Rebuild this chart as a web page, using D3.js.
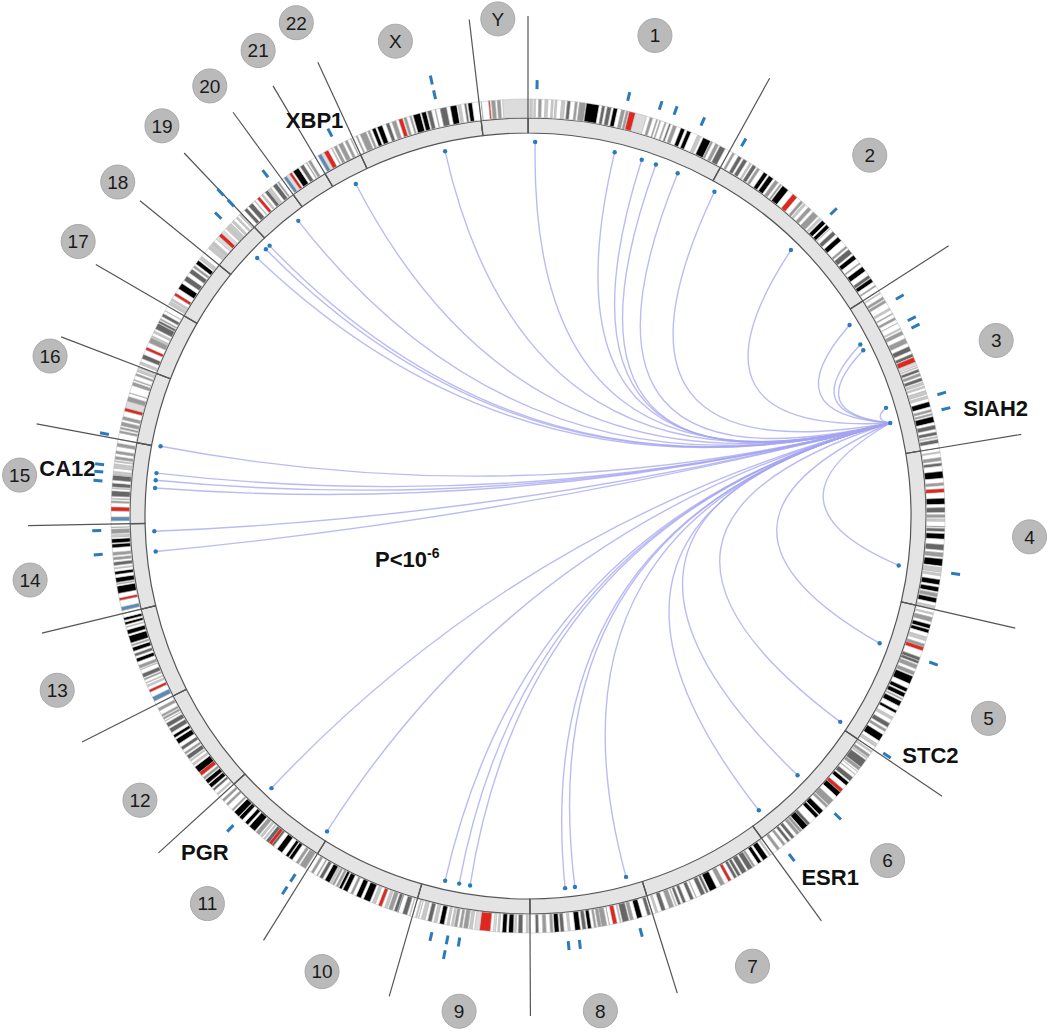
<!DOCTYPE html>
<html>
<head>
<meta charset="utf-8">
<script src="https://cdn.jsdelivr.net/npm/d3@7"></script>
<style>
body { margin: 0; background: #fff; }
svg { display: block; }
</style>
</head>
<body>
<div id="chart"></div>
<script>
// chromosomes, clockwise from 12 o'clock (sizes in Mb)
var chromNames = ["1","2","3","4","5","6","7","8","9","10","11","12","13","14","15","16","17","18","19","20","21","22","X","Y"];
var chromSizes = [247.25,242.95,199.50,191.27,180.86,170.90,158.82,146.27,140.27,135.37,134.45,132.35,114.14,106.37,100.34,88.83,78.77,76.12,63.81,62.44,46.94,49.69,154.91,57.77];

// cytobands: "end stain" pairs in Mb. n=gneg 1=gpos25 2=gpos50 3=gpos75 4=gpos100 a=acen v=gvar s=stalk
var bandData = [
"2.3 n 5.4 1 7.2 n 9.2 1 12.7 n 16.2 2 20.4 n 23.9 1 28 n 30.2 1 32.4 n 34.6 1 40.1 n 44.1 1 46.8 n 50.7 3 56.1 n 59 2 61.3 n 68.9 2 69.7 n 84.9 4 88.4 n 92 3 94.7 n 99.7 3 102.2 n 107.2 4 111.8 n 116.1 2 117.8 n 120.7 2 121.5 n 128.9 a 142.6 v 147 n 150.3 2 155 n 156.5 2 159.1 n 160.5 2 165.5 n 167.2 2 170.9 n 172.9 3 176 n 180.3 2 185.8 n 190.8 4 193.8 n 198.7 4 207.2 n 211.5 1 214.5 n 224.1 4 224.6 n 227 2 230.7 n 234.7 2 236.6 n 243.7 3 249.25 n",
"4.4 n 7.1 2 12.2 n 16.7 3 19.2 n 24 3 27.9 n 30 1 32.1 n 36.6 3 38.6 n 41.8 2 47.8 n 52.9 4 55 n 61.3 4 64.1 n 68.6 2 71.5 n 73.5 2 75 n 83.3 4 90.5 n 96.8 a 102.7 n 106 2 107.5 n 110.2 1 114.4 n 118.8 2 122.4 n 129.9 2 132.5 n 135.1 1 136.8 n 142.2 4 144.1 n 148.7 4 149.9 n 150.5 1 154.9 n 159.8 3 163.7 n 169.7 4 178 n 180.6 2 183 n 189.4 3 191.9 n 197.4 4 203.3 n 204.9 2 209 n 215.3 4 221.5 n 225.2 3 226.1 n 231 4 235.6 n 237.3 2 243.2 n",
"2.8 n 4 1 8.7 n 11.8 2 13.3 n 16.4 2 23.9 n 26.4 1 30.9 n 32.1 2 36.5 n 39.3 2 43.7 n 44.1 2 50.6 n 52.3 1 54.4 n 58.6 2 63.7 n 69.8 2 74.2 n 79.8 3 83.5 n 87.2 3 87.9 n 93.9 a 98.3 v 100 n 100.9 1 102.8 n 106.2 3 107.9 n 111.3 2 113.5 n 117.3 3 119 n 121.9 1 123.8 n 125.8 1 129.2 n 133.7 1 135.7 n 138.7 1 142.8 n 148.9 4 152.1 n 155 2 157 n 159 2 160.7 n 167.6 4 170.9 n 175.7 3 179 n 182.7 3 184.5 n 186 1 187.9 n 192.3 3 198.02 n",
"4.5 n 6 1 11.3 n 15.2 2 17.8 n 21.3 3 27.7 n 35.8 4 41.2 n 44.6 2 48.2 n 52.7 a 59.5 n 66.6 4 70.5 n 76.3 3 78.9 n 82.4 2 84.1 n 86.9 1 92.8 n 93.7 3 95.1 n 98.8 3 101.1 n 107.7 4 114.1 n 120.8 3 123.8 n 128.8 2 131.1 n 139.5 4 141.5 n 146.8 1 148.5 n 151.1 1 155.6 n 161.8 4 164.5 n 170.1 4 171.9 n 176.3 2 177.5 n 183.2 4 187.1 n 191.15 1",
"4.5 n 6.3 1 9.8 n 15 2 18.4 n 23.3 4 24.6 n 28.9 4 33.8 n 38.4 1 42.5 n 46.1 2 50.7 a 58.9 n 62.9 3 63.2 n 66.7 3 68.4 n 73.3 2 76.9 n 81.4 2 82.8 n 92.3 4 98.2 n 102.8 4 104.5 n 109.6 4 111.5 n 113.1 2 115.2 n 121.4 4 127.3 n 130.6 4 136.2 n 139.5 1 144.5 n 149.8 3 152.7 n 155.7 2 159.9 n 168.5 4 172.8 n 176.6 1 180.92 n",
"2.3 n 4.2 1 7.1 n 10.6 2 11.6 n 13.4 1 15.2 n 25.2 3 25.8 n 29.8 2 31.8 n 32.1 1 35.6 n 36.6 1 40.5 n 46.2 3 48.1 n 53 4 58.7 n 63.3 a 63.4 n 70 4 75.9 n 83.9 2 84.9 n 88 2 93.1 n 99.5 4 100.6 n 105.5 4 114.6 n 118.3 3 118.5 n 126.1 4 127.1 n 130.3 2 131.2 n 135.2 2 139 n 142.8 3 145.6 n 149 3 152.5 n 155.5 2 161 n 164.5 2 171.12 n",
"2.8 n 4.5 1 7.3 n 13.8 4 16.5 n 20.9 4 25.5 n 28 2 28.8 n 35 3 37.2 n 43.3 3 45.4 n 49 3 50.5 n 54 3 58 n 61.7 a 67 n 72.2 2 77.5 n 86.4 4 88.2 n 91.1 3 92.8 n 98 3 103.8 n 104.5 2 107.4 n 111.6 3 117.4 n 121.1 3 123.8 n 127.1 3 129.2 n 130.4 1 132.6 n 138.2 2 143.1 n 147.9 3 152.6 n 155.1 1 159.14 n",
"2.2 n 6.2 3 12.7 n 19 4 23.3 n 27.4 2 28.8 n 36.5 3 38.3 n 39.7 1 43.1 n 48.1 a 52.2 n 52.6 3 55.5 n 61.6 2 62.2 n 66 2 68 n 70.5 2 73.9 n 78.3 4 80.1 n 84.6 3 86.9 n 93.3 4 99 n 101.6 1 106.2 n 110.5 3 112.1 n 117.7 4 119.2 n 122.5 2 127.3 n 131.5 2 136.4 n 139.9 3 146.36 n",
"2.2 n 4.6 1 9 n 14.2 3 16.6 n 18.5 1 19.9 n 25.6 4 28 n 33.2 4 36.3 n 38.4 1 41 n 43.6 v 47.3 n 60 a 65.9 v 68.7 n 72.2 1 74 n 79.2 2 81.1 n 84.1 2 86.9 n 90.4 2 91.8 n 93.9 1 96.6 n 99.3 1 102.6 n 108.2 4 111.3 n 114.9 1 117.7 n 122.5 3 125.8 n 130.3 1 133.5 n 134 1 135.9 n 137.4 1 141.21 n",
"3 n 3.8 1 6.6 n 12.2 3 17.3 n 18.6 3 18.7 n 22.6 3 24.6 n 29.6 2 31.3 n 34.4 1 38 n 42.3 a 46.1 n 49.9 1 52.9 n 61.2 4 64.5 n 70.6 4 74.9 n 77.7 2 82 n 87.9 4 89.5 n 92.9 4 94.1 n 97 2 99.3 n 101.9 2 103 n 104.9 1 105.8 n 111.9 4 114.9 n 119.1 3 121.7 n 123.1 2 127.5 n 130.6 2 135.53 n",
"2.8 n 10.7 2 12.7 n 16.2 2 21.7 n 26.1 4 27.2 n 31 4 36.4 n 43.5 4 48.8 n 51.6 3 55.8 a 60.1 3 61.9 n 63.6 1 66.1 n 68.7 1 70.5 n 75.5 2 77.4 n 85.9 4 88.3 n 92.8 4 97.2 n 102.1 4 102.9 n 110.4 4 112.5 n 114.5 2 121.2 n 123.9 2 127.8 n 130.8 2 135.01 n",
"3.3 n 5.4 1 10.1 n 12.8 3 14.8 n 20 4 21.3 n 26.5 4 27.8 n 30.7 2 33.3 n 38.2 a 46.4 4 49.1 n 51.5 1 54.9 n 56.6 1 58.1 n 63.1 3 65.1 n 67.7 2 71.5 n 75.3 3 79.9 n 86.3 4 88.6 n 92.2 4 95.8 n 101.2 3 103.5 n 108.6 3 111.3 n 111.9 1 113.9 n 116.4 2 117.7 n 120.3 2 125.4 n 128.9 2 133.85 n",
"4.5 n 10 s 16.3 n 19.5 a 23.3 n 25.5 1 27.8 n 28.9 1 32.2 n 34 2 35.5 n 40.1 3 45.2 n 45.8 1 47.3 n 50.9 2 55.3 n 59.6 4 62.3 n 65.7 3 68.6 n 73.3 4 75.4 n 77.2 2 79 n 87.7 4 90 n 95 4 98.2 n 99.3 1 101.7 n 104.8 4 107 n 110.3 4 115.17 n",
"3.7 n 8.1 s 16.1 n 19.1 a 24.6 n 33.3 4 35.3 n 36.6 2 37.8 n 43.5 4 47.2 n 50.9 4 54.1 n 55.5 1 58.1 n 62.1 3 64.8 n 67.9 2 70.2 n 73.8 2 79.3 n 83.6 4 84.9 n 89.8 4 91.9 n 94.7 1 96.3 n 101.4 2 103.2 n 104 2 107.35 n",
"3.9 n 8.7 s 15.8 n 20.7 a 25.7 n 28.1 2 30.3 n 31.2 2 33.6 n 40.1 3 42.8 n 43.6 1 44.8 n 49.5 3 52.9 n 59.1 3 59.3 n 63.7 1 67.5 n 72.7 1 75.2 n 76.6 1 78.3 n 81.7 2 85.2 n 88.5 2 93.8 n 98 2 102.53 n",
"7.9 n 10.5 2 12.6 n 14.8 2 16.8 n 21.2 2 24.2 n 28.1 2 34.6 n 38.6 a 47 v 52.6 2 56.7 n 57.4 2 66.7 n 70.8 2 72.9 n 74.1 2 79.2 n 81.7 2 84.2 n 87.1 1 88.7 n 90.35 1",
"3.3 n 6.5 1 10.7 n 16 3 22.2 n 25.8 a 31.8 n 38.1 2 38.4 n 40.9 1 44.9 n 47.4 1 50.2 n 57.6 3 58.3 n 61.1 3 62.6 n 64.2 2 67.1 n 70.9 3 74.8 n 75.3 1 81.2 n",
"2.9 n 7.1 1 8.5 n 10.9 1 15.4 n 19 a 25 n 32.7 4 37.2 n 43.5 3 48.2 n 53.8 3 56.2 n 59 2 61.6 n 66.8 4 68.7 n 73.1 1 78.08 n",
"6.9 n 13.9 1 14 n 16.3 1 20 n 24.4 v 28.6 a 32.4 v 35.5 n 38.3 1 38.7 n 43.4 1 45.2 n 48 1 51.4 n 53.6 1 56.3 n 59.13 1",
"5.1 n 9.2 3 12.1 n 17.9 3 21.3 n 22.3 1 25.6 n 29.4 a 32.1 n 34.4 1 37.6 n 41.7 3 42.1 n 46.4 1 49.8 n 55 3 56.5 n 58.4 2 63.03 n",
"2.8 n 6.8 s 10.9 v 14.3 a 16.4 n 24 4 26.8 n 31.5 3 35.3 n 36.4 2 38.3 n 41.6 2 48.13 n",
"3.8 n 8.3 s 12.2 v 17.9 a 22.2 n 23.5 1 25.9 n 29.6 2 32.2 n 37.6 2 41 n 44.2 2 48.4 n 49.4 2 51.3 n",
"4.3 n 6 2 9.5 n 17.1 2 19.3 n 21.9 2 24.9 n 29.3 4 31.5 n 37.6 4 42.4 n 46.4 3 49.8 n 54.8 2 58.1 n 63 a 64.6 n 67.8 2 71.8 n 73.9 2 76 n 84.6 4 86.2 n 91.8 4 93.5 n 98.3 3 102.6 n 103.7 2 108.7 n 116.5 3 120.9 n 128.7 4 130.4 n 133.6 1 138 n 140.3 3 142.1 n 147.1 4 155.27 n",
"2.5 n 3 3 11.6 n 13.4 a 15.1 n 19.8 2 22.1 n 26.2 2 28.8 n 59.37 v"
];

// links: every source joins the SIAH2 locus on chr3
var linkChrom = ["X","1","1","1","1","1","2","2","3","3","3","3","4","5","5","6","6","8","8","8","9","9","9","11","11","14","14","15","15","15","16","19","19","19","20","22"];
var linkPos   = [103.1,9.4,114.7,151.5,171.1,201.9,8.6,135,17.2,46.3,54.8,136.1,145.4,59.4,174.9,83.8,152.3,18.6,87,99.9,78.6,93.1,111.9,4.9,97.3,69.3,95.8,46.3,56.5,65.9,1.2,38.6,54.8,61.6,47.5,27.8];
var hubChrom = "3", hubPos = 156.7;

// blue marks outside the ideogram (row 0 = first track, row 1 = stacked)
var markChrom = ["X","X","1","1","1","1","1","2","2","3","3","3","3","3","4","5","5","6","6","8","8","8","9","9","9","9","11","11","11","14","14","15","15","15","16","19","19","19","20","22"];
var markPos   = [105.7,105.7,10.3,115.5,153.2,171.1,204.5,9.4,138.6,18.9,47.1,56.6,138.7,156.7,146.3,60.2,177.5,85.8,156,18.6,89.6,102.4,81.1,94.8,94.8,113.6,9.2,9.2,100,71.9,99.3,49.7,60,68.5,3.3,42.9,63.2,63.2,50.9,28.6];
var markRow   = [0,1,0,0,0,0,0,0,0,0,0,0,0,0,0,0,0,0,0,0,0,0,0,0,1,0,0,1,0,0,0,0,0,0,0,0,0,1,0,0];

// gene labels
var geneNames = ["SIAH2","STC2","ESR1","PGR","CA12","XBP1"];
var geneChrom = ["3","5","6","11","15","22"];
var genePos   = [156.7,174.9,152.3,97.3,56.5,27.8];

var W = 1050, H = 1033, cx = 528, cy = 516;
var rLink = 374, rRingIn = 383, rRingOut = 398, rBandOut = 417, rLine = 500, rLab = 500;
// [angle shift in degrees, radius shift] for crowded badges
var labelNudge = {"1":[0.35,-3],"2":[0.35,-3],"3":[0.5,0],"4":[0.6,2],"5":[0.2,3],"6":[-0.3,-2],"7":[0.15,3],"8":[0.5,0],
    "10":[0.3,0],"11":[-0.2,3],"12":[-1.6,-19],"13":[-0.1,2],"14":[0,2],"15":[-0.15,10],"16":[2.7,4],"17":[5.8,27],
    "18":[4.5,29],"19":[4,35],"20":[3.3,35],"21":[3.3,38],"22":[2.6,45],"X":[0.2,-7],"Y":[-0.1,-2]};
// [angle shift in degrees, radius] for gene names
var geneLabelAt = {SIAH2:[1.4,480],STC2:[-2.7,468],ESR1:[-1.8,471],PGR:[0.6,466],CA12:[0.4,463],XBP1:[-0.9,450]};

var stainColor = {n:"#ffffff","1":"#c8c8c8","2":"#9a9a9a","3":"#666666","4":"#000000",a:"#e0261d",v:"#dcdcdc",s:"#5b8bb8"};

var total = d3.sum(chromSizes);
var offsets = d3.cumsum([0].concat(chromSizes));
var ang = d3.scaleLinear().domain([0, total]).range([0, 2 * Math.PI]);
var deg = Math.PI / 180;

function gpos(chr, mb) { return offsets[chromNames.indexOf(chr)] + mb; }
function pt(a, r) { return [r * Math.sin(a), -r * Math.cos(a)]; }

var svg = d3.select("#chart").append("svg")
    .attr("width", W)
    .attr("height", H)
    .style("font-family", "'Liberation Sans', Arial, sans-serif");

var g = svg.append("g").attr("transform", "translate(" + cx + "," + cy + ")");

var chroms = chromNames.map(function(name, i) {
    return {name: name, start: offsets[i], end: offsets[i] + chromSizes[i]};
});

// grey inner ring
g.selectAll("path.ring")
    .data(chroms)
    .enter()
    .append("path")
    .attr("class", "ring")
    .attr("d", d3.arc()
        .innerRadius(rRingIn).outerRadius(rRingOut)
        .startAngle(function(d) { return ang(d.start); })
        .endAngle(function(d) { return ang(d.end); }))
    .attr("fill", "#e4e4e4")
    .attr("stroke", "#555")
    .attr("stroke-width", 1.2);

// cytobands, stretched to each chromosome's length
var bands = [];
chroms.forEach(function(c, i) {
    var parts = bandData[i].split(" ");
    var k2 = chromSizes[i] / +parts[parts.length - 2];
    var s = 0;
    for (var k = 0; k < parts.length; k += 2) {
        var e = +parts[k] * k2;
        bands.push({start: c.start + s, end: c.start + e, stain: parts[k + 1]});
        s = e;
    }
});

var bandArc = d3.arc()
    .innerRadius(rRingOut + 0.6).outerRadius(rBandOut)
    .startAngle(function(d) { return ang(d.start); })
    .endAngle(function(d) { return ang(d.end); });

g.selectAll("path.band")
    .data(bands)
    .enter()
    .append("path")
    .attr("class", "band")
    .attr("d", bandArc)
    .attr("fill", function(d) { return stainColor[d.stain]; })
    .attr("stroke", "#b4b4b4")
    .attr("stroke-width", 0.5);

// chromosome boundary spokes
g.selectAll("line.spoke")
    .data(chroms)
    .enter()
    .append("line")
    .attr("class", "spoke")
    .attr("x1", function(d) { return pt(ang(d.start), rRingIn)[0]; })
    .attr("y1", function(d) { return pt(ang(d.start), rRingIn)[1]; })
    .attr("x2", function(d) { return pt(ang(d.start), rLine)[0]; })
    .attr("y2", function(d) { return pt(ang(d.start), rLine)[1]; })
    .attr("stroke", "#555")
    .attr("stroke-width", 1.2);

// links
var hubA = ang(gpos(hubChrom, hubPos));
var links = linkChrom.map(function(c, i) { return {a: ang(gpos(c, linkPos[i]))}; });

function linkPath(d) {
    var p0 = pt(d.a, rLink), p1 = pt(hubA, rLink);
    var diff = Math.abs(d.a - hubA);
    if (diff > Math.PI) diff = 2 * Math.PI - diff;
    var sepDeg = diff / deg;
    var mx = Math.sin(d.a) + Math.sin(hubA), my = -Math.cos(d.a) - Math.cos(hubA);
    var ml = Math.sqrt(mx * mx + my * my) || 1;
    var cr = rLink * Math.max(0, 1 - sepDeg / 55);
    var p = d3.path();
    p.moveTo(p0[0], p0[1]);
    p.quadraticCurveTo(mx / ml * cr, my / ml * cr, p1[0], p1[1]);
    return p.toString();
}

g.selectAll("path.link")
    .data(links)
    .enter()
    .append("path")
    .attr("class", "link")
    .attr("d", linkPath)
    .attr("fill", "none")
    .attr("stroke", "#a4a4f0")
    .attr("stroke-opacity", 0.75)
    .attr("stroke-width", 1.4);

g.selectAll("circle.end")
    .data(links.concat([{a: hubA}]))
    .enter()
    .append("circle")
    .attr("class", "end")
    .attr("cx", function(d) { return pt(d.a, rLink)[0]; })
    .attr("cy", function(d) { return pt(d.a, rLink)[1]; })
    .attr("r", 2.2)
    .attr("fill", "#2b7bba");

// outer marks
var marks = markChrom.map(function(c, i) { return {a: ang(gpos(c, markPos[i])), row: markRow[i]}; });
g.selectAll("line.mark")
    .data(marks)
    .enter()
    .append("line")
    .attr("class", "mark")
    .attr("x1", function(d) { return pt(d.a, 427 + d.row * 15)[0]; })
    .attr("y1", function(d) { return pt(d.a, 427 + d.row * 15)[1]; })
    .attr("x2", function(d) { return pt(d.a, 436 + d.row * 15)[0]; })
    .attr("y2", function(d) { return pt(d.a, 436 + d.row * 15)[1]; })
    .attr("stroke", "#2b7bba")
    .attr("stroke-width", 3);

// chromosome number badges
var labs = g.selectAll("g.clab")
    .data(chroms)
    .enter()
    .append("g")
    .attr("class", "clab")
    .attr("transform", function(d) {
        var nud = labelNudge[d.name] || [0, 0];
        var a = ang((d.start + d.end) / 2) + nud[0] * deg;
        var p = pt(a, rLab + nud[1]);
        return "translate(" + p[0] + "," + p[1] + ")";
    });

labs.append("circle")
    .attr("r", 17)
    .attr("fill", "#bababa")
    .attr("stroke", "#a9a9a9")
    .attr("stroke-width", 1);

labs.append("text")
    .attr("text-anchor", "middle")
    .attr("dy", "0.36em")
    .attr("font-size", 19)
    .attr("fill", "#1a1a1a")
    .text(function(d) { return d.name; });

// gene names
geneNames.forEach(function(name, i) {
    var at = geneLabelAt[name];
    var a = ang(gpos(geneChrom[i], genePos[i])) + at[0] * deg;
    var p = pt(a, at[1]);
    g.append("text")
        .attr("x", p[0])
        .attr("y", p[1])
        .attr("dy", "0.36em")
        .attr("text-anchor", "middle")
        .attr("font-size", 22)
        .attr("font-weight", "bold")
        .attr("fill", "#111")
        .text(name);
});

// significance note
var note = g.append("text")
    .attr("x", -153)
    .attr("y", 51)
    .attr("font-size", 22)
    .attr("font-weight", "bold")
    .attr("fill", "#111");
note.append("tspan").text("P<10");
note.append("tspan")
    .attr("dy", -9)
    .attr("font-size", 14)
    .text("-6");
</script>
</body>
</html>
